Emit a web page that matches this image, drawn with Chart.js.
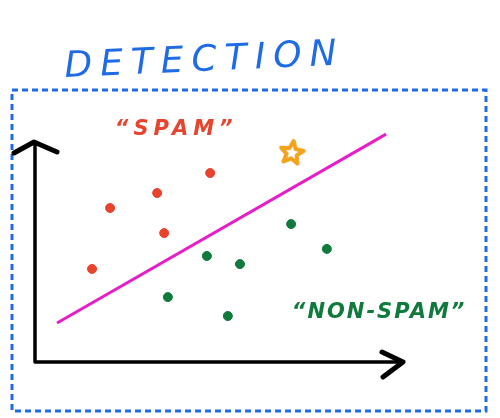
<!DOCTYPE html>
<html>
<head>
<meta charset="utf-8">
<title>Detection</title>
<script src="https://cdn.jsdelivr.net/npm/chart.js@4/dist/chart.umd.min.js"></script>
<style>
	html, body { margin: 0; padding: 0; background: #fff; }
	#chart { display: block; }
</style>
</head>
<body>
<canvas id="chart" width="500" height="418"></canvas>
<script>
"use strict";

var chartTitle = "DETECTION";
var classLabels = ["\u201cSPAM\u201d", "\u201cNON-SPAM\u201d"];

// spam points (red)
var spamX = [4.76, 3.32, 2.04, 3.51, 1.55];
var spamY = [8.59, 7.68, 7.00, 5.86, 4.23];

// non-spam points (green)
var nonSpamX = [6.96, 7.93, 4.67, 5.57, 3.61, 5.24];
var nonSpamY = [6.27, 5.14, 4.82, 4.45, 2.95, 2.09];

// new message (star)
var newX = [6.98];
var newY = [9.55];

// decision boundary
var boundaryX = [0.60, 9.54];
var boundaryY = [1.77, 10.36];

var RED = "#e8432d";
var GREEN = "#0f7a3c";
var BLUE = "#1f6be6";
var MAGENTA = "#e61ec8";
var ORANGE = "#f4a21c";

function toPoints(xs, ys) {
	var pts = [];
	for (var i = 0; i < xs.length; i++) {
		pts.push({x: xs[i], y: ys[i]});
	}
	return pts;
}

function makeStar(size, color) {
	var c = document.createElement("canvas");
	c.width = size;
	c.height = size;
	var ctx = c.getContext("2d");
	var cx = size / 2, cy = size / 2 + 1;
	var outer = size / 2 - 3, inner = outer * 0.45;
	ctx.strokeStyle = color;
	ctx.lineWidth = 4;
	ctx.lineJoin = "round";
	ctx.beginPath();
	for (var i = 0; i < 10; i++) {
		var r = (i % 2 === 0) ? outer : inner;
		var a = -Math.PI / 2 + i * Math.PI / 5 + 0.15;
		var px = cx + r * Math.cos(a), py = cy + r * Math.sin(a);
		if (i === 0) ctx.moveTo(px, py); else ctx.lineTo(px, py);
	}
	ctx.closePath();
	ctx.stroke();
	return c;
}

var sketchPlugin = {
	id: "sketch",
	beforeDraw: function(chart) {
		var ctx = chart.ctx;
		var xs = chart.scales.x, ys = chart.scales.y;
		ctx.save();
		ctx.fillStyle = "#fff";
		ctx.fillRect(0, 0, chart.width, chart.height);

		// dashed frame
		ctx.strokeStyle = BLUE;
		ctx.lineWidth = 3;
		ctx.setLineDash([6, 4]);
		ctx.strokeRect(12, 90, 474, 321);
		ctx.setLineDash([]);

		// axes with arrow heads
		var x0 = xs.getPixelForValue(0), y0 = ys.getPixelForValue(0);
		var x1 = xs.getPixelForValue(xs.max), y1 = ys.getPixelForValue(ys.max);
		ctx.strokeStyle = "#000";
		ctx.lineWidth = 3.5;
		ctx.lineCap = "round";
		ctx.lineJoin = "round";
		ctx.beginPath();
		ctx.moveTo(x0, y1);
		ctx.lineTo(x0, y0);
		ctx.lineTo(x1, y0);
		ctx.stroke();
		ctx.lineWidth = 5;
		ctx.beginPath();
		ctx.moveTo(x0 - 21, y1 + 11);
		ctx.lineTo(x0 - 1, y1);
		ctx.lineTo(x0 + 22, y1 + 10);
		ctx.moveTo(x1 - 21, y0 - 10);
		ctx.lineTo(x1, y0);
		ctx.lineTo(x1 - 20, y0 + 15);
		ctx.stroke();
		ctx.restore();
	},
	afterDraw: function(chart) {
		var ctx = chart.ctx;
		var xs = chart.scales.x, ys = chart.scales.y;
		ctx.save();

		// title
		ctx.translate(65, 77);
		ctx.rotate(-0.045);
		ctx.fillStyle = BLUE;
		ctx.font = "italic 36px 'DejaVu Sans'";
		ctx.letterSpacing = "8px";
		ctx.textBaseline = "alphabetic";
		ctx.fillText(chartTitle, 0, 0);
		ctx.restore();

		ctx.save();
		ctx.textBaseline = "middle";
		ctx.font = "italic bold 21px 'DejaVu Sans'";
		ctx.letterSpacing = "5px";
		ctx.fillStyle = RED;
		ctx.fillText(classLabels[0], xs.getPixelForValue(2.17), ys.getPixelForValue(10.55));
		ctx.fillStyle = GREEN;
		ctx.letterSpacing = "2px";
		ctx.fillText(classLabels[1], xs.getPixelForValue(6.98), ys.getPixelForValue(2.27));
		ctx.restore();
	}
};

var chart = new Chart(document.getElementById("chart"), {
	type: "scatter",
	data: {
		datasets: [
			{
				label: "Boundary",
				type: "line",
				data: toPoints(boundaryX, boundaryY),
				borderColor: MAGENTA,
				borderWidth: 3,
				pointRadius: 0,
				clip: false,
				order: 3
			},
			{
				label: "Spam",
				data: toPoints(spamX, spamY),
				backgroundColor: RED,
				borderColor: RED,
				pointRadius: 4.5,
				clip: false,
				order: 1
			},
			{
				label: "Non-spam",
				data: toPoints(nonSpamX, nonSpamY),
				backgroundColor: GREEN,
				borderColor: GREEN,
				pointRadius: 4.5,
				clip: false,
				order: 1
			},
			{
				label: "New message",
				data: toPoints(newX, newY),
				pointStyle: makeStar(30, ORANGE),
				clip: false,
				order: 0
			}
		]
	},
	options: {
		responsive: false,
		animation: false,
		layout: {padding: {left: 35, right: 97, top: 142, bottom: 56}},
		plugins: {
			legend: {display: false},
			tooltip: {enabled: false},
			title: {display: false}
		},
		scales: {
			x: {type: "linear", display: false, min: 0, max: 10},
			y: {type: "linear", display: false, min: 0, max: 10}
		}
	},
	plugins: [sketchPlugin]
});
</script>
</body>
</html>
